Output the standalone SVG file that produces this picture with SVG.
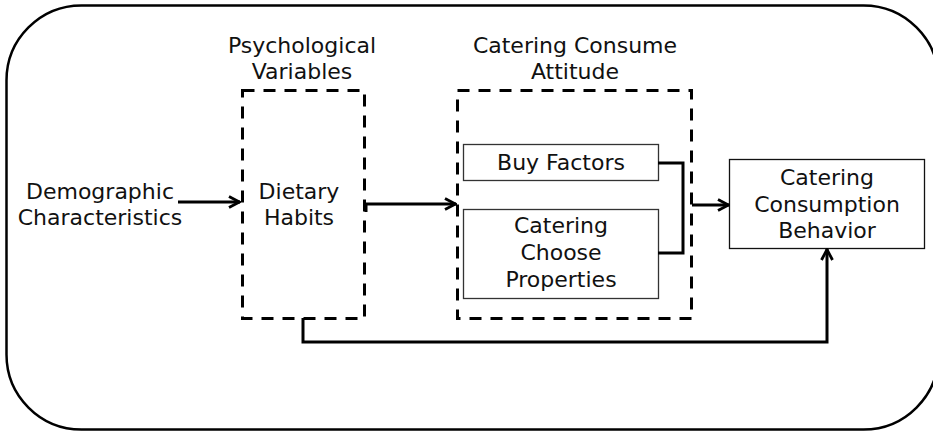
<svg xmlns="http://www.w3.org/2000/svg" width="933" height="432" viewBox="0 0 933 432">
  <defs>
    <marker id="arrow" viewBox="0 0 14 14" refX="13" refY="7" markerWidth="14" markerHeight="14" markerUnits="userSpaceOnUse" orient="auto">
      <path d="M2,1.5 L12.5,7 L2,12.5" fill="none" stroke="#000" stroke-width="2.8" stroke-linejoin="miter"/>
    </marker>
  </defs>
  <style>
    text { font-family: "DejaVu Sans", "Noto Sans", sans-serif; font-size: 22px; fill: #111; text-anchor: middle; }
    .frame { fill: #fff; stroke: #000; stroke-width: 2.5; }
    .group { fill: none; stroke: #000; stroke-width: 3; stroke-dasharray: 12 9; }
    .box { fill: #fff; stroke: #333; stroke-width: 1.3; }
    .link { fill: none; stroke: #000; stroke-width: 3; }
  </style>

  <!-- outer frame -->
  <rect class="frame" x="6.5" y="5.5" width="932" height="424" rx="75" ry="75"/>

  <!-- Psychological Variables group -->
  <g id="psychological">
    <text x="302" y="53">Psychological</text>
    <text x="302" y="79">Variables</text>
    <rect class="group" x="242.5" y="90.5" width="122" height="228"/>
    <text x="299" y="199">Dietary</text>
    <text x="299" y="225">Habits</text>
  </g>

  <!-- Catering Consume Attitude group -->
  <g id="attitude">
    <text x="575" y="53">Catering Consume</text>
    <text x="575" y="79">Attitude</text>
    <rect class="group" x="457.5" y="90.5" width="234" height="228"/>
  </g>

  <g id="buy-factors">
    <rect class="box" x="463.5" y="144.5" width="195" height="36"/>
    <text x="561" y="170">Buy Factors</text>
  </g>

  <g id="choose-properties">
    <rect class="box" x="463.5" y="209.5" width="195" height="89"/>
    <text x="561" y="233">Catering</text>
    <text x="561" y="260">Choose</text>
    <text x="561" y="287">Properties</text>
  </g>

  <g id="demographic">
    <text x="100" y="199">Demographic</text>
    <text x="100" y="225">Characteristics</text>
  </g>

  <g id="behavior">
    <rect class="box" x="729.5" y="159.5" width="195" height="89" style="stroke:#111"/>
    <text x="827" y="185">Catering</text>
    <text x="827" y="212">Consumption</text>
    <text x="827" y="238">Behavior</text>
  </g>

  <!-- connectors -->
  <g id="connectors">
    <line class="link" x1="178" y1="202" x2="240" y2="202" marker-end="url(#arrow)"/>
    <path class="link" d="M366,212 L366,204 L456,204" marker-end="url(#arrow)"/>
    <path class="link" d="M658,163 L683,163 L683,253 L658,253"/>
    <line class="link" x1="692" y1="205" x2="729" y2="205" marker-end="url(#arrow)"/>
    <path class="link" d="M303,318 L303,342 L827,342 L827,249" marker-end="url(#arrow)"/>
  </g>
</svg>
